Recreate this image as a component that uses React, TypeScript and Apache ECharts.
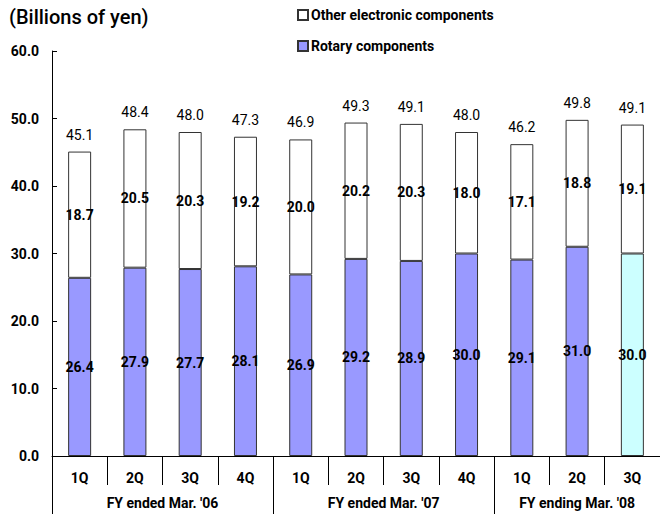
import React, { useEffect, useRef } from "react";
import * as echarts from "echarts";

const quarters = ["1Q", "2Q", "3Q", "4Q", "1Q", "2Q", "3Q", "4Q", "1Q", "2Q", "3Q"];
const rotary = [26.4, 27.9, 27.7, 28.1, 26.9, 29.2, 28.9, 30.0, 29.1, 31.0, 30.0];
const other = [18.7, 20.5, 20.3, 19.2, 20.0, 20.2, 20.3, 18.0, 17.1, 18.8, 19.1];
const totals = [45.1, 48.4, 48.0, 47.3, 46.9, 49.3, 49.1, 48.0, 46.2, 49.8, 49.1];
const yearLabels = ["FY ended Mar. '06", "FY ended Mar. '07", "FY ending Mar. '08"];
const yearCenters = [2, 6, 9.5];
const yearBounds = [0, 4, 8];
const yTicks = [0, 10, 20, 30, 40, 50, 60];

const FONT = "Roboto, 'Noto Sans', Arial, sans-serif";

export default function App() {
  const ref = useRef<HTMLDivElement>(null);
  useEffect(() => {
    if (!ref.current) return;
    const chart = echarts.init(ref.current, undefined, { renderer: "svg" });
    const lastIdx = rotary.length - 1;
    chart.setOption({
      animation: false,
      backgroundColor: "#ffffff",
      title: {
        text: "(Billions of yen)",
        left: 9,
        top: 7,
        padding: 0,
        textStyle: { fontFamily: FONT, fontSize: 20, fontWeight: 500, color: "#000" },
      },
      legend: {
        orient: "vertical",
        left: 297,
        top: 8,
        padding: 0,
        itemWidth: 10,
        itemHeight: 10,
        itemGap: 17,
        icon: "rect",
        data: ["Other electronic components", "Rotary components"],
        textStyle: { fontFamily: FONT, fontSize: 14, fontWeight: "bold", color: "#000", padding: [0, 0, 0, -2] },
      },
      grid: { left: 52, top: 51, height: 405, width: 614, containLabel: false },
      xAxis: [
        {
          type: "category",
          data: quarters,
          position: "bottom",
          axisLine: { show: true, lineStyle: { color: "#000", width: 1 } },
          axisTick: { show: true, length: 29, lineStyle: { color: "#000" } },
          axisLabel: { margin: 15, fontFamily: FONT, fontSize: 14, fontWeight: "bold", color: "#000" },
        },
        {
          type: "value",
          min: 0,
          max: 11,
          position: "bottom",
          splitLine: { show: false },
          axisLine: { show: false },
          axisTick: { show: true, customValues: yearBounds, length: 60, lineStyle: { color: "#000" } },
          axisLabel: {
            customValues: yearCenters,
            margin: 40,
            fontFamily: FONT,
            fontSize: 14,
            fontWeight: "bold",
            color: "#000",
            formatter: (v: number) => {
              const i = yearCenters.indexOf(v);
              return i >= 0 ? yearLabels[i] : "";
            },
          },
        },
      ],
      yAxis: {
        type: "value",
        min: 0,
        max: 60,
        interval: 10,
        axisLine: { show: true, lineStyle: { color: "#000" } },
        axisTick: { show: true, inside: true, length: 5, lineStyle: { color: "#000" } },
        splitLine: { show: false },
        axisLabel: {
          customValues: yTicks,
          margin: 13,
          fontFamily: FONT,
          fontSize: 14,
          fontWeight: "bold",
          color: "#000",
          formatter: (v: number) => v.toFixed(1),
        },
      },
      series: [
        {
          name: "Rotary components",
          type: "bar",
          stack: "s",
          xAxisIndex: 0,
          barWidth: 23,
          data: rotary.map((v, i) => (i === lastIdx ? { value: v, itemStyle: { color: "#CCFFFF" } } : v)),
          itemStyle: { color: "#9999FF", borderColor: "#333", borderWidth: 1 },
          label: {
            show: true,
            position: "inside",
            fontFamily: FONT,
            fontSize: 14,
            fontWeight: "bold",
            color: "#000",
            formatter: (p: any) => Number(p.value).toFixed(1),
          },
        },
        {
          name: "Other electronic components",
          type: "bar",
          stack: "s",
          xAxisIndex: 0,
          barWidth: 23,
          data: other,
          itemStyle: { color: "#FFFFFF", borderColor: "#333", borderWidth: 1 },
          label: {
            show: true,
            position: "inside",
            fontFamily: FONT,
            fontSize: 14,
            fontWeight: "bold",
            color: "#000",
            formatter: (p: any) => Number(p.value).toFixed(1),
          },
        },
        {
          name: "total",
          type: "bar",
          stack: "s",
          xAxisIndex: 0,
          barWidth: 23,
          data: totals.map(() => 0),
          itemStyle: { color: "transparent", borderWidth: 0 },
          label: {
            show: true,
            position: "top",
            distance: 10,
            fontFamily: FONT,
            fontSize: 14,
            fontWeight: "normal",
            color: "#000",
            formatter: (p: any) => totals[p.dataIndex].toFixed(1),
          },
          tooltip: { show: false },
        },
      ],
    });
    return () => chart.dispose();
  }, []);
  return <div ref={ref} style={{ width: 660, height: 514, position: "absolute", left: 0, top: 0 }} />;
}
